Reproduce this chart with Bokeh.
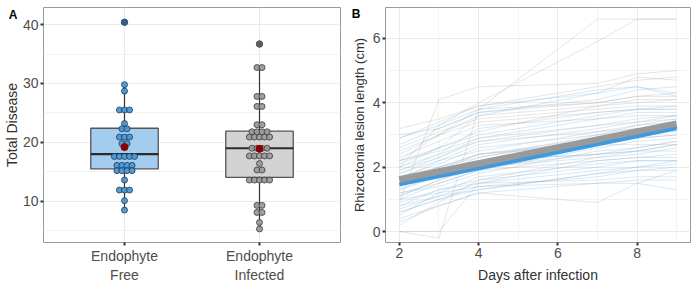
from bokeh.plotting import figure
from bokeh.layouts import row
from bokeh.models import Range1d, FixedTicker, LinearAxis
from bokeh.embed import file_html
from bokeh.resources import INLINE

FONT = "Liberation Sans"

# ---------------- Panel A data ----------------
group_positions = [1, 2]
group_labels = ["Endophyte\nFree", "Endophyte\nInfected"]
free_values = [40.4, 29.8, 28.7, 25.5, 25.5, 25.5, 23.2, 22.3, 22.3,
               20.9, 20.9, 20.9, 19.8, 19.8, 17.6, 17.6, 17.6, 17.6, 17.6,
               16.1, 16.1, 16.1, 16.1, 15.2, 15.2, 15.2, 15.2, 13.6,
               11.9, 11.9, 11.9, 10.1, 8.5]
infected_values = [36.7, 32.7, 32.7, 27.8, 27.8, 26.1, 26.1, 23.0, 23.0,
                   21.8, 21.8, 21.8, 21.8, 20.9, 20.9, 20.9, 20.9, 20.9,
                   19.0, 19.0, 19.0, 19.0, 17.7, 17.7, 17.7, 17.7, 17.7,
                   16.4, 15.3, 15.3, 13.6, 13.6, 13.6, 13.6, 13.6,
                   9.3, 9.3, 8.1, 8.1, 6.4, 5.3]
free_outliers = [40.4]
infected_outliers = [36.7]
box_q1 = [15.5, 14.05]
box_median = [18.0, 19.0]
box_q3 = [22.4, 21.9]
whisker_low = [8.5, 5.3]
whisker_high = [29.8, 32.7]
group_means = [19.2, 18.9]
y_ticks_a = [10, 20, 30, 40]

# ---------------- Panel B data ----------------
days = [2, 3, 4, 7, 8, 9]
free_lesions = [
    [1.5, 1.9, 2.2, 2.4, 2.5, 2.5],
    [0.9, 1.3, 1.6, 2.0, 2.2, 2.2],
    [2.1, 2.6, 3.0, 3.6, 3.8, 3.9],
    [1.2, 1.5, 1.9, 2.6, 2.8, 2.9],
    [0.6, 1.0, 1.4, 1.7, 1.9, 2.0],
    [2.4, 3.0, 3.6, 4.3, 4.5, 4.2],
    [1.8, 2.2, 2.5, 3.1, 3.3, 3.4],
    [0.3, 0.8, 1.2, 1.5, 1.6, 1.6],
    [1.0, 1.2, 1.4, 1.5, 1.5, 1.3],
    [2.7, 3.2, 3.7, 4.1, 4.4, 4.5],
    [1.4, 1.8, 2.1, 2.7, 3.0, 3.2],
    [0.0, 0.0, 1.5, 2.2, 2.3, 2.3],
    [1.9, 2.3, 2.8, 3.3, 3.4, 3.5],
    [1.1, 1.6, 2.0, 2.3, 2.4, 2.6],
    [2.2, 2.5, 2.9, 3.5, 3.6, 3.6],
    [0.8, 1.1, 1.3, 1.8, 1.9, 1.9],
    [1.6, 2.0, 2.4, 2.8, 2.9, 3.0],
    [2.9, 3.3, 3.8, 4.4, 4.5, 4.3],
    [1.3, 1.7, 2.2, 2.4, 2.5, 2.7],
    [0.5, 1.2, 1.7, 2.1, 2.2, 2.2],
    [1.7, 2.1, 2.6, 3.0, 3.2, 3.3],
    [2.0, 2.4, 3.2, 3.7, 3.8, 3.8],
    [1.2, 1.4, 1.8, 2.5, 2.6, 2.8],
    [0.7, 1.1, 1.5, 1.9, 2.0, 2.1],
    [1.5, 2.0, 2.3, 2.9, 3.1, 3.1],
]
infected_lesions = [
    [2.2, 3.0, 3.8, 6.6, 6.6, 6.6],
    [2.0, 3.3, 4.0, 5.9, 6.6, 6.6],
    [0.9, 4.1, 4.5, 4.6, 4.9, 5.0],
    [0.0, -0.2, 3.8, 4.0, 4.2, 4.3],
    [2.5, 3.0, 3.4, 3.7, 3.8, 3.8],
    [1.3, 1.8, 2.3, 3.0, 3.3, 3.5],
    [2.9, 3.4, 3.9, 4.3, 4.8, 4.7],
    [1.0, 1.5, 1.9, 2.2, 2.3, 2.4],
    [1.6, 2.2, 2.7, 3.2, 3.4, 3.6],
    [0.4, 0.8, 1.2, 0.9, 1.5, 1.9],
    [2.2, 2.6, 3.1, 3.9, 4.0, 4.1],
    [1.8, 2.3, 2.9, 3.3, 3.5, 3.6],
    [0.8, 1.3, 1.5, 1.6, 1.7, 1.7],
    [3.2, 3.5, 3.9, 4.5, 4.7, 4.8],
    [1.4, 1.9, 2.4, 2.9, 3.2, 3.2],
    [0.2, 0.9, 1.6, 2.3, 2.5, 2.7],
    [2.0, 2.6, 3.6, 3.9, 4.1, 4.1],
    [1.1, 1.6, 2.0, 2.4, 2.6, 2.8],
    [2.6, 3.1, 3.5, 3.8, 3.9, 3.9],
    [1.5, 1.9, 2.2, 2.7, 2.9, 3.0],
    [0.6, 1.0, 1.3, 1.8, 2.0, 2.2],
    [2.3, 2.8, 3.3, 3.5, 3.7, 3.7],
    [1.7, 2.0, 2.4, 2.7, 2.7, 2.7],
    [3.0, 3.2, 3.7, 4.0, 4.2, 4.2],
    [1.9, 2.4, 2.8, 3.1, 3.2, 3.3],
]
trend_days = [2, 9]
free_trend = [1.46, 3.20]
infected_trend = [1.60, 3.33]
x_ticks_b = [2, 4, 6, 8]
y_ticks_b = [0, 2, 4, 6]

# ---------------- styling ----------------
GRID = "#ebebeb"
BORDER = "#9a9a9a"
TICKLAB = "#4d4d4d"
TITLE = "#303030"


def style(p):
    p.background_fill_color = "white"
    p.border_fill_color = "white"
    p.outline_line_color = BORDER
    p.outline_line_width = 1
    for ax in p.axis:
        ax.axis_line_color = None
        ax.major_tick_line_color = "#333333"
        ax.major_tick_line_width = 2
        ax.major_tick_out = 3
        ax.major_tick_in = 0
        ax.minor_tick_line_color = None
        ax.major_label_text_font = FONT
        ax.major_label_text_font_size = "14px"
        ax.major_label_text_color = TICKLAB
        ax.major_label_standoff = 1
        ax.axis_label_text_font = FONT
        ax.axis_label_text_font_style = "normal"
        ax.axis_label_text_color = TITLE
    for g in p.grid:
        g.grid_line_color = GRID
        g.grid_line_width = 1
        g.minor_grid_line_color = GRID
        g.minor_grid_line_width = 0.6


def outer_axis(p, letter, y_at, title, title_size, letter_standoff, title_standoff):
    """A second left axis: its single tick label is the panel letter,
    its axis label is the y title."""
    ax = LinearAxis(ticker=FixedTicker(ticks=[y_at]),
                    major_label_overrides={y_at: letter})
    ax.axis_line_color = None
    ax.major_tick_line_color = None
    ax.minor_tick_line_color = None
    ax.major_tick_out = 0
    ax.major_tick_in = 0
    ax.minor_tick_out = 0
    ax.major_label_standoff = letter_standoff
    ax.major_label_text_font = FONT
    ax.major_label_text_font_size = "12px"
    ax.major_label_text_font_style = "bold"
    ax.major_label_text_color = "black"
    ax.axis_label = title
    ax.axis_label_text_font = FONT
    ax.axis_label_text_font_size = title_size
    ax.axis_label_text_font_style = "normal"
    ax.axis_label_text_color = TITLE
    ax.axis_label_standoff = title_standoff
    p.add_layout(ax, "left")


def px_to_y(py, yr, ft, fh):
    return yr[1] - (py - ft) / fh * (yr[1] - yr[0])


# ---------------- Panel A ----------------
WA, HA = 348, 285
A_L, A_R, A_T, A_B = 34, 8, 6, 42
xa = (0.4, 2.6)
ya = (3.0, 42.9)
fwA = WA - A_L - A_R
fhA = HA - A_T - A_B
pA = figure(width=WA, height=HA, x_range=Range1d(*xa), y_range=Range1d(*ya),
            output_backend="svg", toolbar_location=None,
            min_border_left=A_L, min_border_right=A_R,
            min_border_top=A_T, min_border_bottom=A_B)
pA.xaxis.ticker = FixedTicker(ticks=group_positions)
pA.xaxis.major_label_overrides = {pos: lab for pos, lab in zip(group_positions, group_labels)}
pA.yaxis.ticker = FixedTicker(ticks=y_ticks_a, minor_ticks=[5, 15, 25, 35])
pA.xgrid.ticker = FixedTicker(ticks=group_positions)
pA.ygrid.ticker = FixedTicker(ticks=y_ticks_a, minor_ticks=[5, 15, 25, 35])
style(pA)
pA.xgrid.minor_grid_line_color = None
pA.xaxis.major_label_standoff = 2
outer_axis(pA, "A", round(px_to_y(13.5, ya, A_T, fhA), 3), "Total Disease", "14px", 2, -14)

box_fill = ["#a3ccee", "#d3d3d3"]
dot_fill = ["#4a97d3", "#9b9b9b"]
dot_line = ["#1d3b57", "#3a3a3a"]
out_fill = ["#2e5e88", "#5c5c5c"]

pA.segment(x0=group_positions, x1=group_positions, y0=whisker_low, y1=box_q1,
           line_color="#333333", line_width=1.2)
pA.segment(x0=group_positions, x1=group_positions, y0=box_q3, y1=whisker_high,
           line_color="#333333", line_width=1.2)
pA.vbar(x=group_positions, width=0.5, bottom=box_q1, top=box_q3,
        fill_color=box_fill, line_color="#555555", line_width=1.3)
pA.segment(x0=[g - 0.25 for g in group_positions], x1=[g + 0.25 for g in group_positions],
           y0=box_median, y1=box_median, line_color="#2b2b2b", line_width=2.2)

px_per_unit = fwA / (xa[1] - xa[0])
step = 5.2 / px_per_unit
for gi, vals in enumerate([free_values, infected_values]):
    outs = [free_outliers, infected_outliers][gi]
    counts = {}
    for v in vals:
        counts[v] = counts.get(v, 0) + 1
    xs, ys = [], []
    for v, n in counts.items():
        for i in range(n):
            xs.append(group_positions[gi] + (i - (n - 1) / 2) * step)
            ys.append(v)
    pA.scatter(xs, ys, size=6, fill_color=dot_fill[gi], line_color=dot_line[gi],
               line_width=0.8, fill_alpha=0.95)
    pA.scatter([group_positions[gi]] * len(outs), outs, size=6.5,
               fill_color=out_fill[gi], line_color=out_fill[gi], line_width=0.8)

pA.scatter(group_positions, group_means, size=7, fill_color="#8b0000",
           line_color="#8b0000")

# ---------------- Panel B ----------------
WB, HB = 348, 285
B_L, B_R, B_T, B_B = 36, 6, 7, 42
xb = (1.65, 9.35)
yb = (-0.34, 6.96)
fhB = HB - B_T - B_B
pB = figure(width=WB, height=HB, x_range=Range1d(*xb), y_range=Range1d(*yb),
            output_backend="svg", toolbar_location=None,
            min_border_left=B_L, min_border_right=B_R,
            min_border_top=B_T, min_border_bottom=B_B)
pB.xaxis.ticker = FixedTicker(ticks=x_ticks_b, minor_ticks=[3, 5, 7, 9])
pB.yaxis.ticker = FixedTicker(ticks=y_ticks_b, minor_ticks=[1, 3, 5])
pB.xgrid.ticker = FixedTicker(ticks=x_ticks_b, minor_ticks=[3, 5, 7, 9])
pB.ygrid.ticker = FixedTicker(ticks=y_ticks_b, minor_ticks=[1, 3, 5])
style(pB)
pB.xaxis.axis_label = "Days after infection"
pB.xaxis.axis_label_text_font_size = "14px"
pB.xaxis.axis_label_standoff = 6
outer_axis(pB, "B", round(px_to_y(13.5, yb, B_T, fhB), 3),
           "Rhizoctonia lesion length (cm)", "13px", 9, -18)

pB.multi_line(xs=[days] * len(infected_lesions), ys=infected_lesions,
              line_color="#8c8c8c", line_alpha=0.28, line_width=0.8)
pB.multi_line(xs=[days] * len(free_lesions), ys=free_lesions,
              line_color="#6aaee0", line_alpha=0.35, line_width=0.8)
pB.line(trend_days, infected_trend, line_color="#9a9a9a", line_width=8)
pB.line(trend_days, free_trend, line_color="#3d9ae0", line_width=3.5)

layout = row(pA, pB, spacing=0)
open("out.html", "w").write(file_html(layout, INLINE))
